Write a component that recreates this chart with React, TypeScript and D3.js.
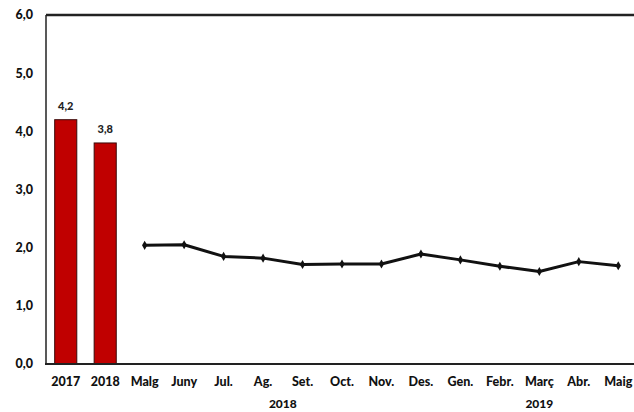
import React from "react";
import * as d3 from "d3";

const categories = ["2017", "2018", "Malg", "Juny", "Jul.", "Ag.", "Set.", "Oct.", "Nov.", "Des.", "Gen.", "Febr.", "Març", "Abr.", "Maig"];
const barCategories = ["2017", "2018"];
const barValues = [4.2, 3.8];
const barLabels = ["4,2", "3,8"];
const lineCategories = ["Malg", "Juny", "Jul.", "Ag.", "Set.", "Oct.", "Nov.", "Des.", "Gen.", "Febr.", "Març", "Abr.", "Maig"];
const lineValues = [2.04, 2.05, 1.85, 1.82, 1.71, 1.72, 1.72, 1.89, 1.79, 1.68, 1.59, 1.76, 1.69];
const yTicks = [0, 1, 2, 3, 4, 5, 6];
const yearGroups = [
  { label: "2018", from: "Malg", to: "Des." },
  { label: "2019", from: "Gen.", to: "Maig" },
];

const W = 634;
const H = 412;
const left = 46;
const right = 638;
const top = 15;
const bottom = 364;
const font = "Lato, 'Open Sans', sans-serif";

export default function App() {
  const x = d3.scaleBand<string>().domain(categories).range([left, right]).padding(0);
  const y = d3.scaleLinear().domain([0, 6]).range([bottom, top]);
  const cx = (c: string) => (x(c) as number) + x.bandwidth() / 2;
  const barW = x.bandwidth() * 0.56;

  const line = d3
    .line<number>()
    .x((_, i) => cx(lineCategories[i]))
    .y((d) => y(d));

  const diamond = d3.symbol().type(d3.symbolDiamond).size(24)();
  const fmt = (v: number) => d3.format(".1f")(v).replace(".", ",");

  return (
    <svg width={W} height={H} style={{ position: "absolute", left: 0, top: 0, background: "#fff" }}>
      <rect x={0} y={0} width={W} height={H} fill="#fff" />
      <line x1={left} x2={W} y1={top} y2={top} stroke="#222" strokeWidth={2.4} />
      <line x1={left} x2={left} y1={top} y2={bottom} stroke="#222" strokeWidth={1.5} />
      {yTicks.map((t) => (
        <text
          key={t}
          x={33}
          y={y(t)}
          dy="0.35em"
          textAnchor="end"
          fontFamily={font}
          fontWeight={900}
          fontSize={12.5}
          fill="#111"
        >
          {fmt(t)}
        </text>
      ))}
      {barCategories.map((c, i) => (
        <g key={c}>
          <rect
            x={cx(c) - barW / 2}
            y={y(barValues[i])}
            width={barW}
            height={bottom - y(barValues[i])}
            fill="#C00000"
            stroke="#3a0a0a"
            strokeWidth={1}
          />
          <text
            x={cx(c)}
            y={y(barValues[i]) - 10}
            textAnchor="middle"
            fontFamily={font}
            fontWeight={900}
            fontSize={11}
            fill="#222"
          >
            {barLabels[i]}
          </text>
        </g>
      ))}
      <line x1={left - 1} x2={W} y1={bottom} y2={bottom} stroke="#222" strokeWidth={2.2} />
      <path d={line(lineValues) || ""} fill="none" stroke="#111" strokeWidth={3} strokeLinejoin="round" />
      {lineValues.map((v, i) => (
        <path key={i} d={diamond || ""} transform={`translate(${cx(lineCategories[i])},${y(v)})`} fill="#111" />
      ))}
      {categories.map((c) => (
        <text
          key={c}
          x={cx(c)}
          y={386}
          textAnchor="middle"
          fontFamily={font}
          fontWeight={900}
          fontSize={12.5}
          fill="#111"
        >
          {c}
        </text>
      ))}
      {yearGroups.map((g) => (
        <text
          key={g.label}
          x={(cx(g.from) + cx(g.to)) / 2}
          y={408}
          textAnchor="middle"
          fontFamily={font}
          fontWeight={900}
          fontSize={12}
          fill="#111"
        >
          {g.label}
        </text>
      ))}
    </svg>
  );
}
